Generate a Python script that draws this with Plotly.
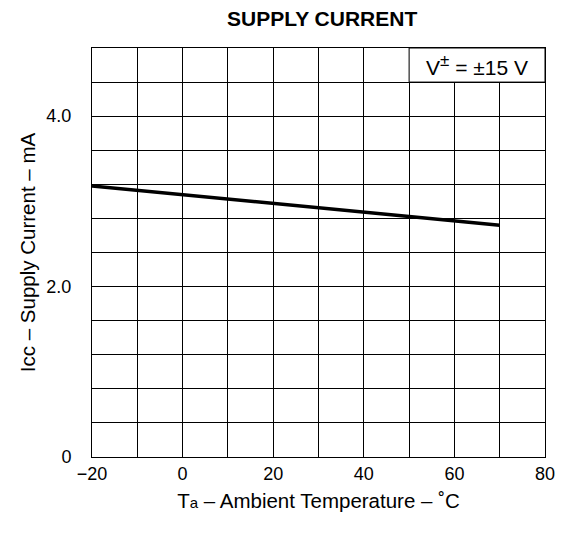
import plotly.graph_objects as go

# Data
temps = [-20, -10, 0, 10, 20, 30, 40, 50, 60, 70]
icc = [3.18, 3.13, 3.08, 3.03, 2.98, 2.93, 2.87, 2.82, 2.77, 2.72]

x_ticks = [-20, 0, 20, 40, 60, 80]
x_labels = ["\u221220", "0", "20", "40", "60", "80"]
x_grid = [-20, -10, 0, 10, 20, 30, 40, 50, 60, 70, 80]
y_ticks = [0, 2.0, 4.0]
y_labels = ["0", "2.0", "4.0"]
y_grid = [0, 0.4, 0.8, 1.2, 1.6, 2.0, 2.4, 2.8, 3.2, 3.6, 4.0, 4.4, 4.8]

font_family = "Liberation Sans, Arial, Helvetica, sans-serif"

fig = go.Figure()
fig.add_trace(go.Scatter(x=temps, y=icc, mode="lines",
                         line=dict(color="black", width=3.5),
                         showlegend=False, hoverinfo="skip"))

fig.add_shape(type="rect", xref="x", yref="y", x0=50, x1=80, y0=4.4, y1=4.8,
              fillcolor="white", line=dict(color="black", width=1), layer="above")
fig.add_annotation(x=65, y=4.6, xref="x", yref="y",
                   text="V<sup><span style='font-size:17px'>\u00b1</span></sup> = \u00b115 V",
                   showarrow=False,
                   font=dict(family=font_family, size=21, color="black"))

# The page body has an 8 px margin, so the figure is sized to fit the window.
fig.update_layout(
    width=562, height=526,
    margin=dict(l=84, r=25, t=40, b=77),
    paper_bgcolor="white", plot_bgcolor="white",
    font=dict(family=font_family, size=18, color="black"),
    title=dict(text="<b>SUPPLY CURRENT</b>", x=0.559, xanchor="center",
               y=1 - 11 / 526, yanchor="middle",
               font=dict(family=font_family, size=21, color="black")),
)
grid_style = dict(showgrid=True, gridcolor="black", gridwidth=1, ticks="")
fig.update_xaxes(range=[-20, 80], tickmode="array", tickvals=x_ticks, ticktext=x_labels,
                 minor=dict(tickvals=x_grid, **grid_style),
                 showgrid=True, gridcolor="black", gridwidth=1,
                 showline=True, linecolor="black", linewidth=1, mirror=True,
                 zeroline=False, ticks="", tickfont=dict(size=18), automargin=False,
                 title=dict(text="T<span style='font-size:15px'>a</span> \u2013 Ambient Temperature \u2013 \u02daC",
                            font=dict(size=20.5), standoff=11))
fig.update_yaxes(range=[0, 4.8], tickmode="array", tickvals=y_ticks, ticktext=y_labels,
                 minor=dict(tickvals=y_grid, **grid_style),
                 showgrid=True, gridcolor="black", gridwidth=1,
                 showline=True, linecolor="black", linewidth=1, mirror=True,
                 zeroline=False, ticks="", tickfont=dict(size=18), ticklabelstandoff=16,
                 automargin=False,
                 title=dict(text="Icc \u2013 Supply Current \u2013 mA",
                            font=dict(size=20.5), standoff=5))

fig.write_html("out.html")
